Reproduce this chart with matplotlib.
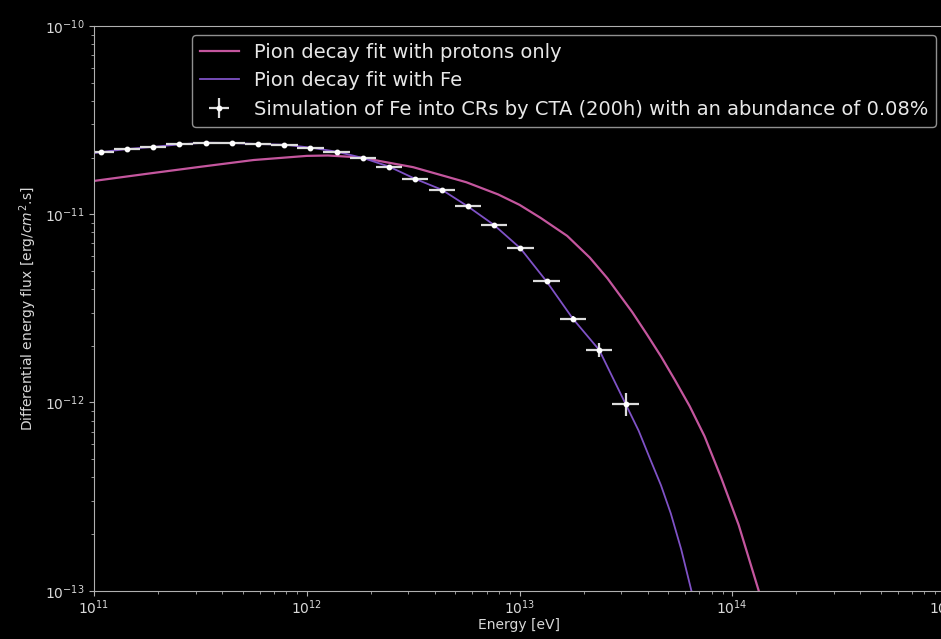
import matplotlib
matplotlib.use('Agg')
import matplotlib.pyplot as plt
import numpy as np

# simulated CTA points (Fe into CRs, 200h)
sim_energy = [1.08e11, 1.43e11, 1.90e11, 2.52e11, 3.35e11, 4.45e11, 5.91e11, 7.85e11,
              1.04e12, 1.38e12, 1.84e12, 2.44e12, 3.24e12, 4.31e12, 5.72e12, 7.59e12,
              1.01e13, 1.34e13, 1.78e13, 2.37e13, 3.15e13]
sim_flux = [2.14e-11, 2.22e-11, 2.28e-11, 2.35e-11, 2.40e-11, 2.39e-11, 2.36e-11, 2.34e-11,
            2.26e-11, 2.15e-11, 1.99e-11, 1.79e-11, 1.54e-11, 1.35e-11, 1.10e-11, 8.77e-12,
            6.59e-12, 4.40e-12, 2.79e-12, 1.90e-12, 9.84e-13]
sim_flux_err = [1.5e-13, 1.5e-13, 1.5e-13, 1.5e-13, 1.5e-13, 1.5e-13, 1.5e-13, 1.5e-13,
                1.5e-13, 1.5e-13, 1.5e-13, 1.5e-13, 1.5e-13, 1.5e-13, 1.2e-13, 1.1e-13,
                1.0e-13, 1.0e-13, 1.0e-13, 1.6e-13, 1.4e-13]
sim_bin_half = 0.0617  # half bin width in dex

# pion decay fit, protons only (log10 E [eV], log10 flux)
p_log_energy = [11.0, 11.25, 11.5, 11.75, 12.0, 12.1, 12.25, 12.5, 12.75, 12.9, 13.0,
                13.1, 13.224, 13.33, 13.413, 13.53, 13.6, 13.666, 13.73, 13.8, 13.87,
                13.948, 14.03, 14.123, 14.2]
p_log_flux = [-10.823, -10.785, -10.748, -10.712, -10.690, -10.688, -10.698, -10.750,
              -10.830, -10.895, -10.950, -11.02, -11.115, -11.23, -11.34, -11.52, -11.64,
              -11.757, -11.88, -12.02, -12.18, -12.40, -12.65, -12.995, -13.3]

# pion decay fit with Fe: starts at the axis, runs through the points, then the tail
fe_head_energy = [1.00e11]
fe_head_flux = [2.11e-11]
fe_tail_log_energy = [13.56, 13.616, 13.665, 13.711, 13.76, 13.808, 13.85]
fe_tail_log_flux = [-12.15, -12.306, -12.44, -12.589, -12.78, -13.0, -13.2]

PINK = '#c4569e'
PURPLE = '#7f52c6'
FG = '#d8d8d8'

fig = plt.figure(figsize=(9.41, 6.39), dpi=100, facecolor='black')
ax = fig.add_axes([94/941, 1 - 590.7/639, (945 - 94)/941, (590.7 - 26)/639])
ax.set_facecolor('black')

ax.plot(10**np.array(p_log_energy), 10**np.array(p_log_flux), color=PINK, lw=1.6,
        label='Pion decay fit with protons only')

fe_energy = fe_head_energy + sim_energy + list(10**np.array(fe_tail_log_energy))
fe_flux = fe_head_flux + sim_flux + list(10**np.array(fe_tail_log_flux))
ax.plot(fe_energy, fe_flux, color=PURPLE, lw=1.3, label='Pion decay fit with Fe')

# asymmetric x errors from log bins
e = np.array(sim_energy)
xerr = [e - e * 10**(-sim_bin_half), e * 10**sim_bin_half - e]
ax.errorbar(sim_energy, sim_flux, xerr=xerr, yerr=sim_flux_err, fmt='o', ms=3.2,
            color='white', ecolor='#dcdcdc', elinewidth=1.6, capsize=0,
            label='Simulation of Fe into CRs by CTA (200h) with an abundance of 0.08%')

ax.set_xscale('log')
ax.set_yscale('log')
ax.set_xlim(1e11, 1e15)
ax.set_ylim(1e-13, 1e-10)

ax.set_xlabel('Energy [eV]', color=FG, fontsize=10, labelpad=1)
ax.set_ylabel(r'Differential energy flux [erg/$cm^2$.s]', color=FG, fontsize=10)

for s in ax.spines.values():
    s.set_color('#b0b0b0')
ax.tick_params(which='both', colors='#b0b0b0', labelcolor=FG, labelsize=10)
ax.tick_params(axis='x', pad=2)

leg = ax.legend(loc='upper right', fontsize=14, facecolor='black', edgecolor='#909090',
                framealpha=1, borderaxespad=0.45)
for t in leg.get_texts():
    t.set_color('#e8e8e8')

plt.savefig('out.png', dpi=100, facecolor='black')
